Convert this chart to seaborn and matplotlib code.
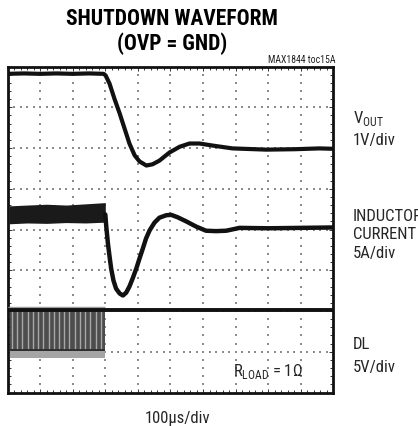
import numpy as np
import pandas as pd
import matplotlib
matplotlib.use("Agg")
import matplotlib.pyplot as plt
import seaborn as sns
from matplotlib import font_manager as fm

# ---------------- data (time in divisions, level in divisions) ----------------
vout_t = [0, 0.5, 1.0, 1.5, 2.0, 2.5, 2.95, 3.01, 3.13, 3.28, 3.44, 3.59, 3.74,
          3.90, 4.05, 4.26, 4.45, 4.66, 4.97, 5.28, 5.58, 5.89, 6.29, 6.90,
          7.94, 8.8, 9.57, 10]
vout_v = [7.82, 7.83, 7.82, 7.83, 7.82, 7.83, 7.82, 7.78, 7.58, 7.21, 6.85,
          6.48, 6.11, 5.82, 5.67, 5.57, 5.60, 5.69, 5.89, 6.03, 6.11, 6.11,
          6.06, 5.99, 5.96, 5.97, 5.99, 5.98]

il_t = [3.0, 3.03, 3.08, 3.13, 3.18, 3.25, 3.33, 3.44, 3.54, 3.64, 3.74, 3.84,
        3.95, 4.05, 4.15, 4.25, 4.36, 4.51, 4.66, 4.87, 5.02, 5.22, 5.48, 5.79,
        6.09, 6.40, 6.71, 7.12, 8.0, 9.0, 10]
il_v = [4.37, 4.07, 3.66, 3.34, 3.04, 2.75, 2.55, 2.43, 2.38, 2.45, 2.60, 2.80,
        3.04, 3.29, 3.53, 3.78, 3.98, 4.17, 4.29, 4.35, 4.36, 4.30, 4.20, 4.07,
        3.97, 3.96, 3.97, 4.04, 4.03, 4.04, 4.05]
il_band_t = [0.05, 0.6, 1.2, 1.8, 2.4, 3.0]
il_band_hi = [4.58, 4.60, 4.62, 4.60, 4.63, 4.66]
il_band_lo = [4.14, 4.16, 4.15, 4.17, 4.16, 4.18]

dl_t = [0, 10]
dl_v = [2.03, 2.03]
dl_burst_t = [0.07, 2.98]
dl_burst_lo = 1.03
dl_tail_lo = 0.85
dl_pulse_t = [0.14, 0.30, 0.46, 0.62, 0.78, 0.94, 1.10, 1.26, 1.42, 1.58,
              1.74, 1.90, 2.06, 2.22, 2.38, 2.54, 2.70, 2.86]

title_lines = ["SHUTDOWN WAVEFORM", "(OVP = GND)"]
toc_label = "MAX1844 toc15A"
x_label = "100\u03bcs/div"

# ---------------- fonts ----------------
sns.set_theme(style="white")
avail = {f.name for f in fm.fontManager.ttflist}
narrow = next((f for f in ["Liberation Sans Narrow", "Roboto Condensed",
                           "DejaVu Sans Condensed", "Liberation Sans"]
               if f in avail), "DejaVu Sans")
plt.rcParams["font.family"] = [narrow, "DejaVu Sans"]
plt.rcParams["mathtext.fontset"] = "custom"
plt.rcParams["mathtext.rm"] = narrow

W, H = 418, 427
fig = plt.figure(figsize=(W / 100, H / 100), dpi=100)
fig.patch.set_facecolor("white")
L, R, T, B = 7.5, 333.5, 67.5, 393.5
ax = fig.add_axes([L / W, 1 - B / H, (R - L) / W, (B - T) / H])
ax.set_facecolor("white")
ax.set_xlim(0, 10)
ax.set_ylim(0, 8)

# grid of dots
gx, gy = [], []
minor_y = np.round(np.arange(0.2, 8.0, 0.2), 2)
minor_x = np.round(np.arange(0.2, 10.0, 0.2), 2)
for xv in range(1, 10):
    gx += [xv] * len(minor_y); gy += list(minor_y)
for yv in range(1, 8):
    gx += list(minor_x); gy += [yv] * len(minor_x)
ax.scatter(gx, gy, s=0.7, marker="s", color="#8c8c8c", linewidths=0, zorder=1)

# ticks on frame
ax.set_xticks(range(0, 11))
ax.set_yticks(range(0, 9))
ax.set_xticks(minor_x, minor=True)
ax.set_yticks(minor_y, minor=True)
ax.tick_params(which="both", direction="in", top=True, right=True,
               bottom=True, left=True, labelbottom=False, labelleft=False,
               color="#333333", width=0.7)
ax.tick_params(which="major", length=3.0)
ax.tick_params(which="minor", length=2.0)
for s in ax.spines.values():
    s.set_linewidth(2.0)
    s.set_color("#111111")

# DL burst (switching region)
ax.fill_between(dl_burst_t, [dl_tail_lo] * 2, [dl_burst_lo + 0.05] * 2,
                color="#a5a5a5", linewidth=0, zorder=2)
ax.fill_between(dl_burst_t, [dl_burst_lo] * 2, [dl_v[0]] * 2,
                color="#4d4d4d", linewidth=0, zorder=2)
ax.vlines(dl_pulse_t, dl_burst_lo + 0.04, dl_v[0], color="#a8a8a8",
          linewidth=1.0, zorder=3)
ax.hlines(dl_burst_lo + 0.02, dl_burst_t[0], dl_burst_t[1], color="#2a2a2a",
          linewidth=1.2, zorder=3)
ax.hlines(dl_v[0] + 0.07, 0, dl_burst_t[1], color="#9a9a9a", linewidth=1.0,
          zorder=3)

# inductor current band before shutdown
ax.fill_between(il_band_t, il_band_lo, il_band_hi, color="#1a1a1a",
                linewidth=0, zorder=4)

df_v = pd.DataFrame({"t": vout_t, "v": vout_v})
df_i = pd.DataFrame({"t": il_t, "v": il_v})
df_d = pd.DataFrame({"t": dl_t, "v": dl_v})
sns.lineplot(data=df_v, x="t", y="v", ax=ax, color="#111111", linewidth=3.0,
             sort=False, estimator=None, zorder=5)
sns.lineplot(data=df_i, x="t", y="v", ax=ax, color="#111111", linewidth=3.2,
             sort=False, estimator=None, zorder=5)
sns.lineplot(data=df_d, x="t", y="v", ax=ax, color="#111111", linewidth=2.8,
             sort=False, estimator=None, zorder=5)
ax.set_xlabel(""); ax.set_ylabel("")

# ---------------- texts ----------------
def fx(px): return px / W
def fy(py): return 1 - py / H

fig.text(fx(172), fy(25), title_lines[0], ha="center", va="baseline",
         fontsize=15.5, fontweight="bold", color="black")
fig.text(fx(172), fy(50), title_lines[1], ha="center", va="baseline",
         fontsize=15.5, fontweight="bold", color="black")
fig.text(fx(335), fy(63), toc_label, ha="right", va="baseline", fontsize=7,
         color="#222222")

fs = 12
lx = fx(353)
fig.text(lx, fy(122.7), "V$_{\\mathregular{OUT}}$", ha="left", va="baseline", fontsize=fs)
fig.text(lx, fy(145), "1V/div", ha="left", va="baseline", fontsize=fs)
fig.text(lx, fy(221), "INDUCTOR", ha="left", va="baseline", fontsize=fs)
fig.text(lx, fy(239), "CURRENT", ha="left", va="baseline", fontsize=fs)
fig.text(lx, fy(258.3), "5A/div", ha="left", va="baseline", fontsize=fs)
fig.text(lx, fy(349.3), "DL", ha="left", va="baseline", fontsize=fs)
fig.text(lx, fy(371.7), "5V/div", ha="left", va="baseline", fontsize=fs)
fig.text(fx(233), fy(375.7), "R$_{\\mathregular{LOAD}}$ = 1\u03a9", ha="left",
         va="baseline", fontsize=fs)
fig.text(fx(177.5), fy(423), x_label, ha="center", va="baseline", fontsize=fs)

fig.savefig("out.png", dpi=100, facecolor="white")
